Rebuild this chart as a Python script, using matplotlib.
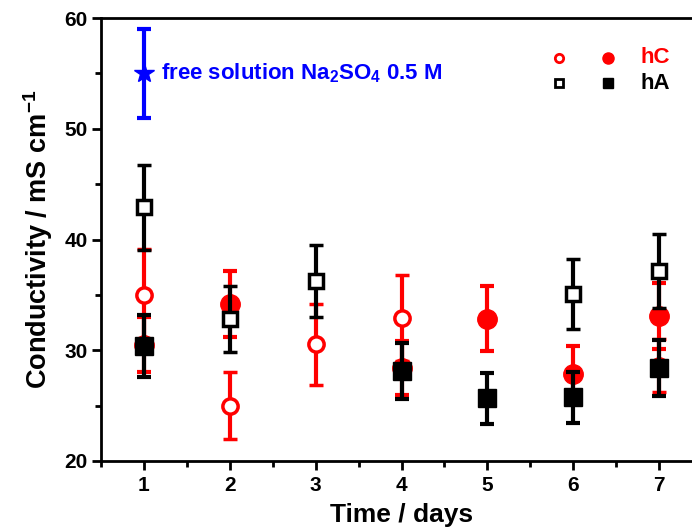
import matplotlib.pyplot as plt
from matplotlib.ticker import MultipleLocator

# Data
days = [1, 2, 3, 4, 5, 6, 7]

# hC, open circles
hc_open_days = [1, 2, 3, 4, 7]
hc_open = [35.0, 25.0, 30.55, 32.9, 28.6]
hc_open_err = [4.1, 3.0, 3.65, 3.9, 2.4]

# hC, filled circles
hc_fill_days = [1, 2, 4, 5, 6, 7]
hc_fill = [30.5, 34.2, 28.4, 32.85, 27.9, 33.1]
hc_fill_err = [2.5, 3.0, 2.4, 2.95, 2.5, 3.0]

# hA, open squares
ha_open_days = [1, 2, 3, 6, 7]
ha_open = [42.9, 32.8, 36.25, 35.05, 37.15]
ha_open_err = [3.85, 3.0, 3.25, 3.15, 3.35]

# hA, filled squares
ha_fill_days = [1, 4, 5, 6, 7]
ha_fill = [30.4, 28.15, 25.65, 25.75, 28.4]
ha_fill_err = [2.8, 2.55, 2.3, 2.3, 2.5]

# free solution reference
free_day = [1]
free_val = [55.0]
free_err = [4.0]

plt.rcParams['font.family'] = ['Liberation Sans', 'DejaVu Sans']
plt.rcParams['font.weight'] = 'bold'
plt.rcParams['mathtext.fontset'] = 'custom'
plt.rcParams['mathtext.rm'] = 'Liberation Sans:bold'
plt.rcParams['mathtext.default'] = 'rm'

fig = plt.figure(figsize=(6.92, 5.32), dpi=100)
ax = fig.add_axes([0.146, 0.1335, 0.8685, 0.8325])

eb = dict(capsize=5, elinewidth=3, capthick=3, linestyle='none')

ax.errorbar(hc_open_days, hc_open, yerr=hc_open_err, marker='o', ms=11, mfc='white',
            mec='red', mew=2.5, color='red', zorder=2, **eb)
ax.errorbar(hc_fill_days, hc_fill, yerr=hc_fill_err, marker='o', ms=14, mfc='red',
            mec='red', color='red', zorder=2, **eb)
ax.errorbar(ha_open_days, ha_open, yerr=ha_open_err, marker='s', ms=10.5, mfc='white',
            mec='black', mew=2.5, color='black', zorder=3, **eb)
ax.errorbar(ha_fill_days, ha_fill, yerr=ha_fill_err, marker='s', ms=12.5, mfc='black',
            mec='black', color='black', zorder=4, **eb)
ax.errorbar(free_day, free_val, yerr=free_err, marker='*', ms=15, mfc='blue',
            mec='blue', color='blue', zorder=5, **eb)

ax.text(1.2, free_val[0], 'free solution Na$_2$SO$_4$ 0.5 M', color='blue',
        fontsize=16, fontweight='bold', va='center', ha='left')

# legend drawn by hand, two marker columns
leg_y = [0.91, 0.853]
ax.plot([0.762], [leg_y[0]], 'o', ms=6, mfc='white', mec='red', mew=2,
        transform=ax.transAxes, clip_on=False)
ax.plot([0.8436], [leg_y[0]], 'o', ms=8, mfc='red', mec='red',
        transform=ax.transAxes, clip_on=False)
ax.plot([0.762], [leg_y[1]], 's', ms=5.5, mfc='white', mec='black', mew=2,
        transform=ax.transAxes, clip_on=False)
ax.plot([0.8436], [leg_y[1]], 's', ms=6.5, mfc='black', mec='black',
        transform=ax.transAxes, clip_on=False)
ax.text(0.897, leg_y[0], 'hC', color='red', fontsize=16, fontweight='bold',
        va='center', transform=ax.transAxes)
ax.text(0.897, leg_y[1], 'hA', color='black', fontsize=16, fontweight='bold',
        va='center', transform=ax.transAxes)

ax.set_xlim(0.5, 7.5)
ax.set_ylim(20, 60)
ax.set_xticks(days)
ax.yaxis.set_major_locator(MultipleLocator(10))
ax.yaxis.set_minor_locator(MultipleLocator(5))
ax.xaxis.set_minor_locator(MultipleLocator(0.5))
ax.tick_params(which='both', direction='out', width=2, top=False, right=False,
               labelsize=15)
ax.tick_params(which='major', length=6.5)
ax.tick_params(which='minor', length=4)
ax.tick_params(axis='x', which='major', pad=4)
ax.tick_params(axis='y', which='major', pad=3)
for s in ax.spines.values():
    s.set_linewidth(2)
ax.spines['right'].set_visible(False)

ax.set_xlabel('Time / days', fontsize=19, fontweight='bold', labelpad=6)
ax.set_ylabel('Conductivity / mS cm$^{-1}$', fontsize=19.5, fontweight='bold', labelpad=7)

fig.savefig('out.png', dpi=100)
